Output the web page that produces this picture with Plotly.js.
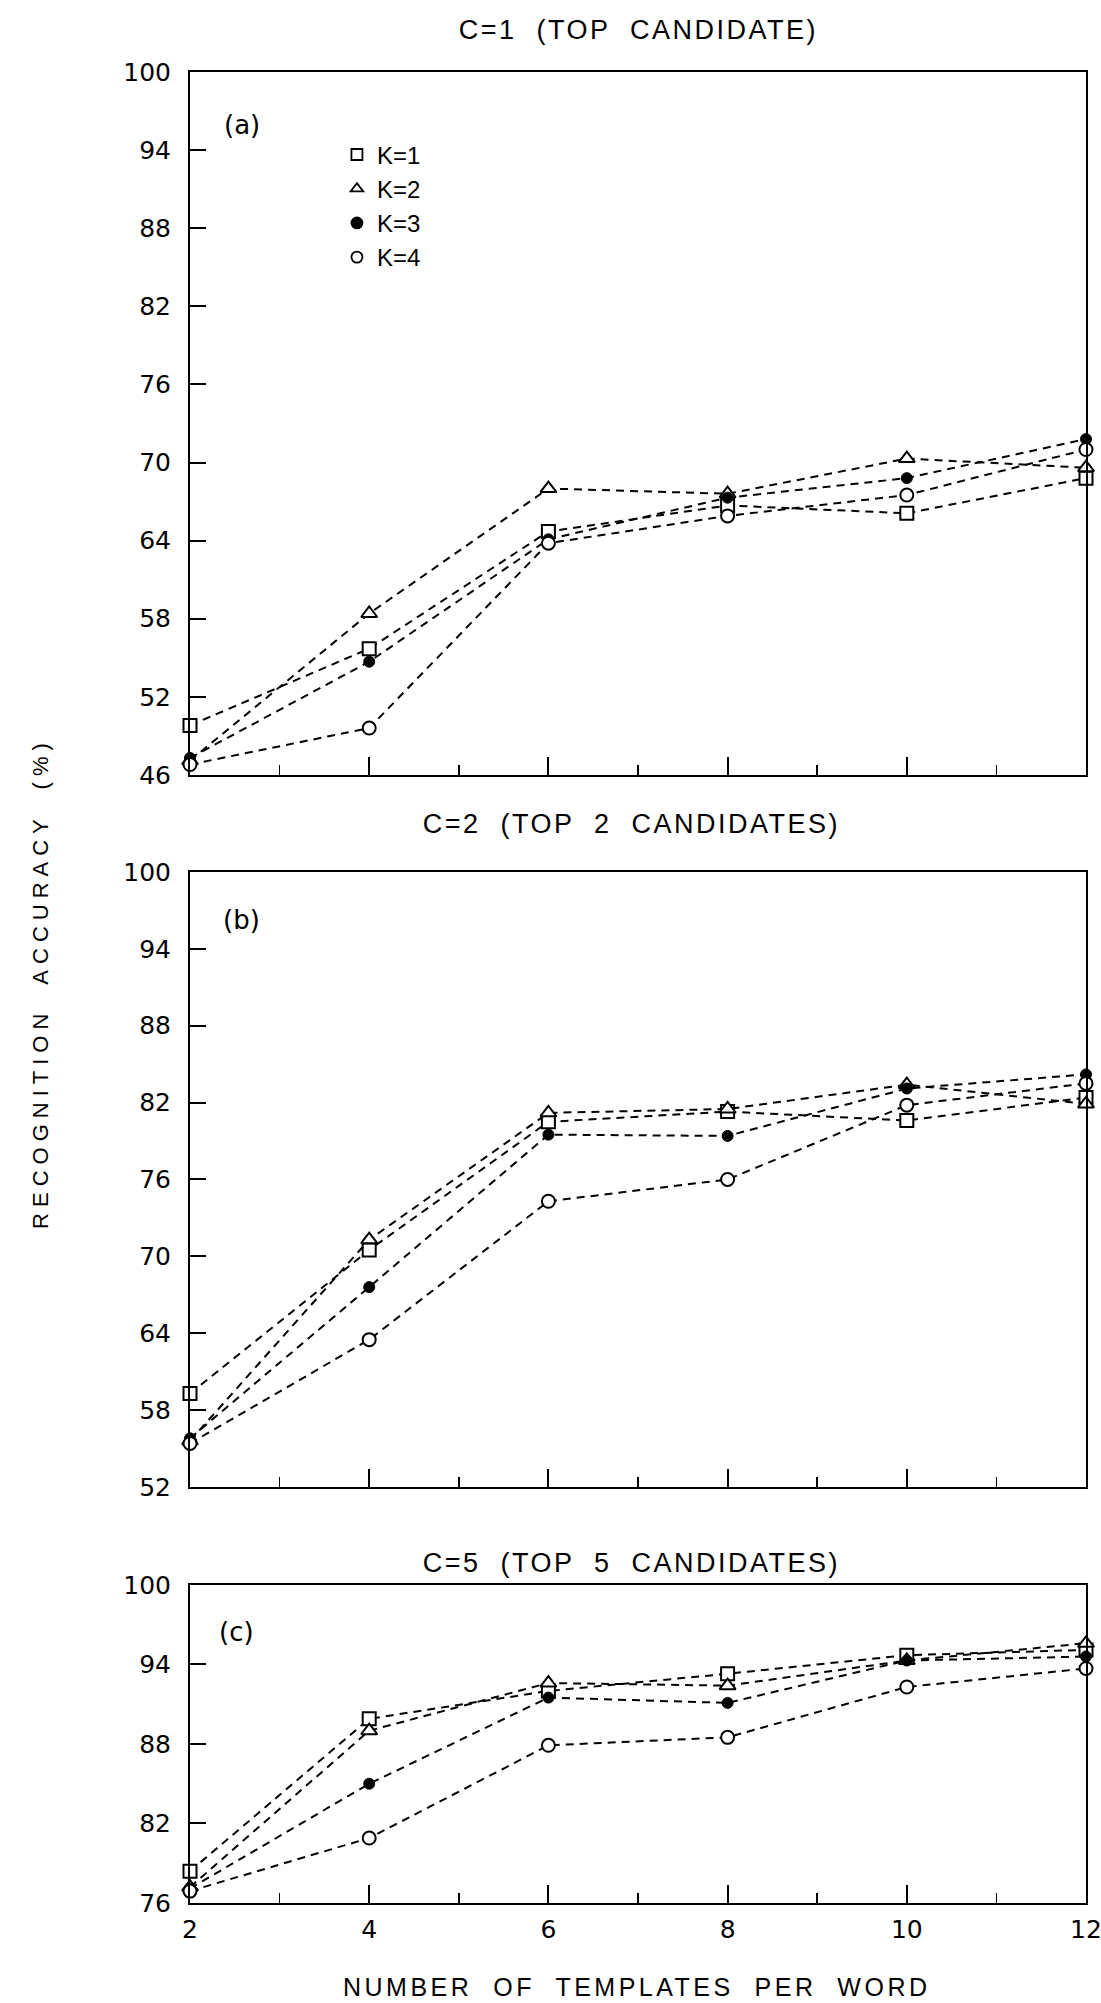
<!DOCTYPE html>
<html>
<head>
<meta charset="utf-8">
<script src="https://cdn.plot.ly/plotly-3.0.1.min.js"></script>
<style>
  html, body { margin: 0; padding: 0; background: #fff; }
  #chart { width: 1101px; height: 2003px; }
  g.annotation[data-index="0"] text, g.annotation[data-index="1"] text, g.annotation[data-index="2"] text { letter-spacing: 2.5px; }
  g.annotation[data-index="3"] text { letter-spacing: 3.5px; }
  g.annotation[data-index="4"] text { letter-spacing: 6px; }
</style>
</head>
<body>
<div id="chart"></div>
<script>
// ---------- data ----------
const templates = [2, 4, 6, 8, 10, 12];
const kNames = ['K=1', 'K=2', 'K=3', 'K=4'];

// (a) C=1 (top candidate)
const c1_k1 = [49.8, 55.7, 64.7, 66.7, 66.1, 68.8];
const c1_k2 = [47.1, 58.4, 68.0, 67.6, 70.3, 69.6];
const c1_k3 = [47.3, 54.7, 64.1, 67.3, 68.8, 71.8];
const c1_k4 = [46.8, 49.6, 63.8, 65.9, 67.5, 71.0];

// (b) C=2 (top 2 candidates)
const c2_k1 = [59.3, 70.5, 80.5, 81.3, 80.6, 82.4];
const c2_k2 = [55.6, 71.3, 81.2, 81.5, 83.4, 81.9];
const c2_k3 = [55.8, 67.6, 79.5, 79.4, 83.1, 84.2];
const c2_k4 = [55.4, 63.5, 74.3, 76.0, 81.8, 83.5];

// (c) C=5 (top 5 candidates)
const c5_k1 = [78.4, 89.9, 92.0, 93.3, 94.7, 95.1];
const c5_k2 = [77.2, 89.0, 92.6, 92.4, 94.3, 95.6];
const c5_k3 = [77.1, 85.0, 91.5, 91.1, 94.3, 94.6];
const c5_k4 = [76.9, 80.9, 87.9, 88.5, 92.3, 93.7];

const yTicksA = [46, 52, 58, 64, 70, 76, 82, 88, 94, 100];
const yTicksB = [52, 58, 64, 70, 76, 82, 88, 94, 100];
const yTicksC = [76, 82, 88, 94, 100];

const panelTitles = ['C=1  (TOP  CANDIDATE)', 'C=2  (TOP  2  CANDIDATES)', 'C=5  (TOP  5  CANDIDATES)'];
const panelTags = ['(a)', '(b)', '(c)'];
const xTitle = 'NUMBER  OF  TEMPLATES  PER  WORD';
const yTitle = 'RECOGNITION  ACCURACY  (%)';

// ---------- styles ----------
const markerStyles = [
  {symbol: 'square', size: 13, color: '#fff', line: {color: '#000', width: 2}},
  {symbol: 'triangle-up', size: 14, color: '#fff', line: {color: '#000', width: 2}},
  {symbol: 'circle', size: 11, color: '#000', line: {color: '#000', width: 1}},
  {symbol: 'circle', size: 13, color: '#fff', line: {color: '#000', width: 2}}
];
const lineStyle = {color: '#000', width: 2, dash: '8px,6px'};

const panels = [
  {series: [c1_k1, c1_k2, c1_k3, c1_k4], xa: 'x', ya: 'y'},
  {series: [c2_k1, c2_k2, c2_k3, c2_k4], xa: 'x2', ya: 'y2'},
  {series: [c5_k1, c5_k2, c5_k3, c5_k4], xa: 'x3', ya: 'y3'}
];

const traces = [];
panels.forEach(p => {
  p.series.forEach((vals, i) => {
    traces.push({
      type: 'scatter', mode: 'lines+markers',
      x: templates, y: vals, xaxis: p.xa, yaxis: p.ya,
      line: lineStyle, marker: markerStyles[i],
      showlegend: false, cliponaxis: false, hoverinfo: 'skip'
    });
  });
});
// legend entries (markers only)
kNames.forEach((name, i) => {
  traces.push({
    type: 'scatter', mode: 'markers', name: name,
    x: [null], y: [null], xaxis: 'x', yaxis: 'y',
    marker: Object.assign({}, markerStyles[i], {size: 11, line: {color: '#000', width: 1.8}}),
    legendgroup: 'g' + i, showlegend: true
  });
});

const tickFont = {family: 'DejaVu Sans, Liberation Sans, sans-serif', size: 25, color: '#000'};

function xAxis(anchor, showLabels) {
  return {
    anchor: anchor, domain: [0, 1], range: [2, 12],
    tickmode: 'array', tickvals: templates, ticktext: templates.map(String),
    showticklabels: showLabels, ticklabeloverflow: 'allow',
    ticks: 'inside', ticklen: 18, tickwidth: 2, tickcolor: '#000',
    minor: {dtick: 1, tick0: 2, ticks: 'inside', ticklen: 10, tickwidth: 1.5, tickcolor: '#000', showgrid: false},
    showline: true, linewidth: 2, linecolor: '#000', mirror: true,
    showgrid: false, zeroline: false, tickfont: tickFont, ticklabelstandoff: 3
  };
}
function yAxis(anchor, domain, ticks) {
  return {
    anchor: anchor, domain: domain, range: [ticks[0], ticks[ticks.length - 1]],
    tickmode: 'array', tickvals: ticks, ticktext: ticks.map(String),
    ticks: 'inside', ticklen: 16, tickwidth: 2, tickcolor: '#000',
    showline: true, linewidth: 2, linecolor: '#000', mirror: true,
    showgrid: false, zeroline: false, tickfont: tickFont, ticklabelstandoff: 12
  };
}

const titleFont = {family: 'Liberation Sans, Arial, sans-serif', size: 27, color: '#000'};

const layout = {
  width: 1101, height: 2003,
  margin: {l: 190, r: 15, t: 72, b: 100},
  paper_bgcolor: '#fff', plot_bgcolor: '#fff',
  xaxis: xAxis('y', false),
  xaxis2: xAxis('y2', false),
  xaxis3: xAxis('y3', true),
  yaxis: yAxis('x', [0.6161, 1], yTicksA),
  yaxis2: yAxis('x2', [0.2272, 0.5631], yTicksB),
  yaxis3: yAxis('x3', [0, 0.1737], yTicksC),
  showlegend: true,
  legend: {
    x: 0.164, y: 0.967, xanchor: 'left', yanchor: 'top',
    font: {family: 'Liberation Sans, Arial, sans-serif', size: 24, color: '#000'},
    bgcolor: 'rgba(0,0,0,0)', borderwidth: 0, tracegroupgap: 0, itemwidth: 30
  },
  annotations: [
    {text: panelTitles[0], xref: 'paper', yref: 'paper', x: 0.500, y: 1.0229, xanchor: 'center', yanchor: 'middle', showarrow: false, font: titleFont},
    {text: panelTitles[1], xref: 'paper', yref: 'paper', x: 0.493, y: 0.5893, xanchor: 'center', yanchor: 'middle', showarrow: false, font: titleFont},
    {text: panelTitles[2], xref: 'paper', yref: 'paper', x: 0.493, y: 0.1857, xanchor: 'center', yanchor: 'middle', showarrow: false, font: titleFont},
    {text: xTitle, xref: 'paper', yref: 'paper', x: 0.499, y: -0.0459, xanchor: 'center', yanchor: 'middle', showarrow: false, font: {family: 'Liberation Sans, Arial, sans-serif', size: 25, color: '#000'}},
    {text: yTitle, xref: 'paper', yref: 'paper', x: -0.1663, y: 0.5025, xanchor: 'center', yanchor: 'middle', textangle: -90, showarrow: false, font: {family: 'Liberation Sans, Arial, sans-serif', size: 22, color: '#000'}},
    {text: panelTags[0], xref: 'paper', yref: 'y domain', x: 0.0580, y: 0.9246, xanchor: 'center', yanchor: 'middle', showarrow: false, font: {family: 'DejaVu Sans, sans-serif', size: 26, color: '#000'}},
    {text: panelTags[1], xref: 'paper', yref: 'y2 domain', x: 0.0580, y: 0.922, xanchor: 'center', yanchor: 'middle', showarrow: false, font: {family: 'DejaVu Sans, sans-serif', size: 26, color: '#000'}},
    {text: panelTags[2], xref: 'paper', yref: 'y3 domain', x: 0.0520, y: 0.852, xanchor: 'center', yanchor: 'middle', showarrow: false, font: {family: 'DejaVu Sans, sans-serif', size: 26, color: '#000'}}
  ]
};

Plotly.newPlot('chart', traces, layout, {staticPlot: true, displayModeBar: false});
</script>
</body>
</html>
